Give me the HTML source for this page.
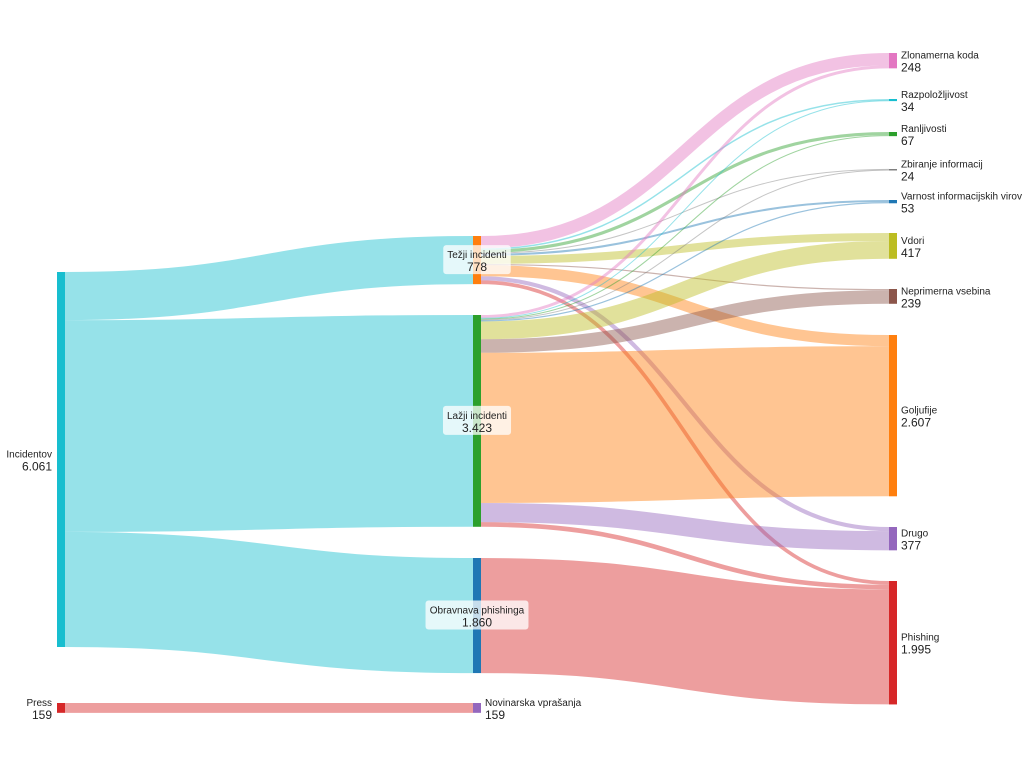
<!DOCTYPE html>
<html><head><meta charset="utf-8"><style>
html,body{margin:0;padding:0;background:#fff;width:1024px;height:768px;overflow:hidden}
svg{display:block;font-family:"Liberation Sans",Arial,sans-serif}
</style></head><body>
<svg id="s" width="1024" height="768" xmlns="http://www.w3.org/2000/svg"></svg>
<script>
const C={blue:"#1f77b4",orange:"#ff7f0e",green:"#2ca02c",red:"#d62728",purple:"#9467bd",brown:"#8c564b",pink:"#e377c2",gray:"#7f7f7f",olive:"#bcbd22",cyan:"#17becf"};
const k=375/6061;
const N={
 inc:{x:57,y:272,v:6061,c:C.cyan,name:"Incidentov",val:"6.061",lab:"left"},
 press:{x:57,y:703,v:159,c:C.red,name:"Press",val:"159",lab:"left"},
 tez:{x:473,y:236,v:778,c:C.orange,name:"Težji incidenti",val:"778",lab:"mid"},
 laz:{x:473,y:315,v:3423,c:C.green,name:"Lažji incidenti",val:"3.423",lab:"mid"},
 obr:{x:473,y:558,v:1860,c:C.blue,name:"Obravnava phishinga",val:"1.860",lab:"mid"},
 nov:{x:473,y:703,v:159,c:C.purple,name:"Novinarska vprašanja",val:"159",lab:"right"},
 zlo:{x:889,y:53,v:248,c:C.pink,name:"Zlonamerna koda",val:"248",lab:"right"},
 raz:{x:889,y:99,v:34,c:C.cyan,name:"Razpoložljivost",val:"34",lab:"right"},
 ran:{x:889,y:132,v:67,c:C.green,name:"Ranljivosti",val:"67",lab:"right"},
 zbi:{x:889,y:169,v:24,c:C.gray,name:"Zbiranje informacij",val:"24",lab:"right"},
 var:{x:889,y:200,v:53,c:C.blue,name:"Varnost informacijskih virov",val:"53",lab:"right"},
 vdo:{x:889,y:233,v:417,c:C.olive,name:"Vdori",val:"417",lab:"right"},
 nep:{x:889,y:289,v:239,c:C.brown,name:"Neprimerna vsebina",val:"239",lab:"right"},
 gol:{x:889,y:335,v:2607,c:C.orange,name:"Goljufije",val:"2.607",lab:"right"},
 dru:{x:889,y:527,v:377,c:C.purple,name:"Drugo",val:"377",lab:"right"},
 phi:{x:889,y:581,v:1995,c:C.red,name:"Phishing",val:"1.995",lab:"right"}
};
const L=[
 ["inc","tez",778,"s"],["inc","laz",3423,"s"],["inc","obr",1860,"s"],["press","nov",159,"s"],
 ["tez","zlo",200],["tez","raz",24],["tez","ran",50],["tez","zbi",14],["tez","var",33],["tez","vdo",130],["tez","nep",20],["tez","gol",180],["tez","dru",67],["tez","phi",60],
 ["laz","zlo",48],["laz","raz",10],["laz","ran",17],["laz","zbi",10],["laz","var",20],["laz","vdo",287],["laz","nep",219],["laz","gol",2427],["laz","dru",310],["laz","phi",75],
 ["obr","phi",1860]
];
for(const n in N){N[n].so=N[n].y;N[n].to=N[n].y;}
let out="";
for(const l of L){
 const s=N[l[0]],t=N[l[1]],w=l[2]*k;
 const y0=s.so+w/2,y1=t.to+w/2;s.so+=w;t.to+=w;
 const x0=s.x+8,x1=t.x,xm=(x0+x1)/2;
 const col=l[3]?s.c:t.c;
 out+=`<path d="M${x0},${y0}C${xm},${y0} ${xm},${y1} ${x1},${y1}" fill="none" stroke="${col}" stroke-opacity="0.45" stroke-width="${Math.max(w,1)}"/>`;
}
for(const n in N){const d=N[n];out+=`<rect x="${d.x}" y="${d.y}" width="8" height="${Math.max(d.v*k,1)}" fill="${d.c}"/>`;}
for(const n in N){const d=N[n],h=d.v*k,cy=d.y+h/2;
 if(d.lab=="left"){out+=`<text x="52" y="${cy-2}" font-size="10" text-anchor="end" fill="#222">${d.name}</text><text x="52" y="${cy+11}" font-size="12" text-anchor="end" fill="#222">${d.val}</text>`;}
 else if(d.lab=="mid"){out+=`<rect class="mb" x="0" y="${cy-15}" width="10" height="29" rx="3" fill="#fff" fill-opacity="0.75"/><text class="mt" x="477" y="${cy-2}" font-size="10" text-anchor="middle" fill="#222">${d.name}</text><text x="477" y="${cy+11}" font-size="12" text-anchor="middle" fill="#222">${d.val}</text>`;}
 else {const x=d.x+12;out+=`<text x="${x}" y="${cy-2}" font-size="10" fill="#222">${d.name}</text><text x="${x}" y="${cy+11}" font-size="12" fill="#222">${d.val}</text>`;}
}
const svg=document.getElementById("s");svg.innerHTML=out;
const bs=svg.querySelectorAll(".mb"),ts=svg.querySelectorAll(".mt");
bs.forEach((b,i)=>{const w=ts[i].getBBox().width+8;b.setAttribute("x",477-w/2);b.setAttribute("width",w);});
</script>
</body></html>
